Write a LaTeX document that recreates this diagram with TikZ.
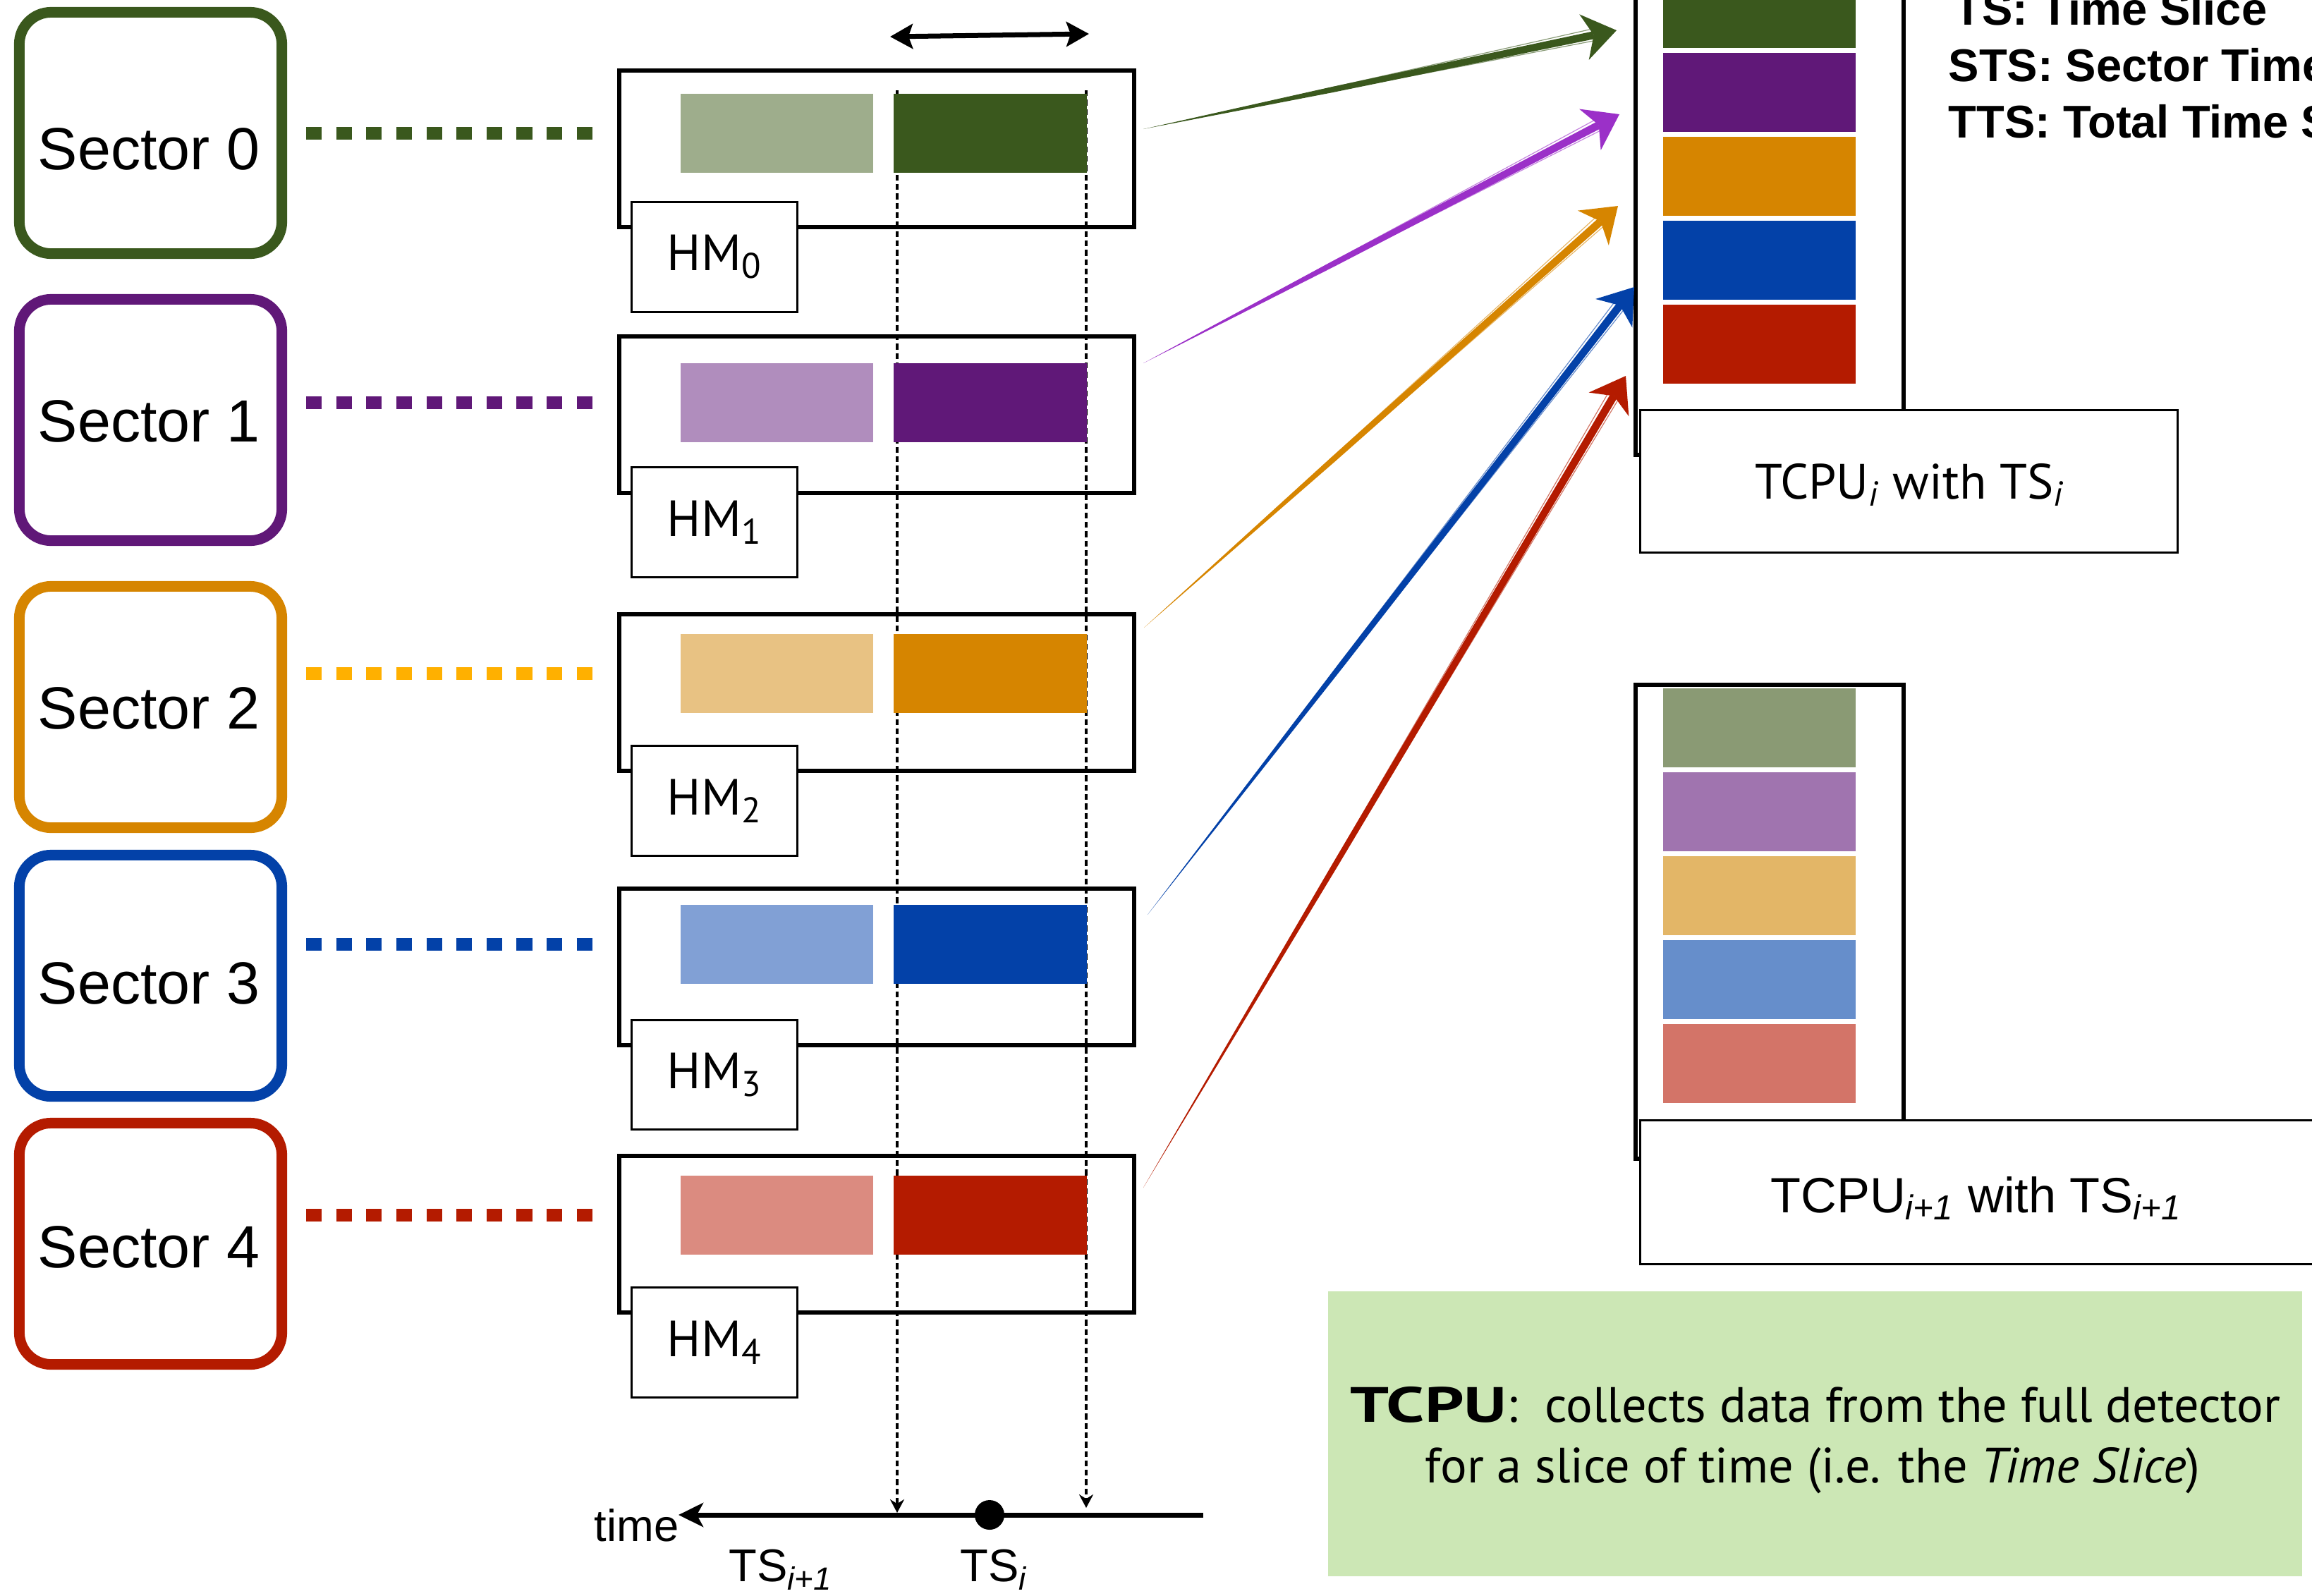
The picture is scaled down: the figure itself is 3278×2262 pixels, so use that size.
\documentclass[tikz,border=0pt]{standalone}
\usepackage{fontspec}
\setmainfont{Liberation Sans}
\newfontfamily\gill{PT Sans}
\usetikzlibrary{arrows.meta,calc}

% sector colours: dark (data in TS_i), light (older data), medium (TS_{i+1})
\definecolor{gD}{HTML}{3A581D}
\definecolor{gL}{HTML}{9EAD8C}
\definecolor{gM}{HTML}{8A9A74}
\definecolor{pD}{HTML}{601878}
\definecolor{pL}{HTML}{B08DBD}
\definecolor{pM}{HTML}{A074AF}
\definecolor{pA}{HTML}{9B30C8}
\definecolor{oD}{HTML}{D68500}
\definecolor{oL}{HTML}{E8C283}
\definecolor{oM}{HTML}{E3B667}
\definecolor{oDot}{HTML}{FFB000}
\definecolor{bD}{HTML}{0341A8}
\definecolor{bL}{HTML}{81A0D5}
\definecolor{bM}{HTML}{668ECB}
\definecolor{rD}{HTML}{B41B00}
\definecolor{rL}{HTML}{DB8B80}
\definecolor{rM}{HTML}{D37468}
\definecolor{noteGreen}{HTML}{CCE7B5}

% tapered, hand-drawn looking arrow: colour, start, tip
\newcommand\sketcharrow[3]{%
  \coordinate (sk-n) at ($(#3)!0.33cm!(#2)$);
  \coordinate (sk-h) at ($(#3)!0.47cm!(#2)$);
  \coordinate (sk-m) at ($(#2)!0.4!(#3)$);
  \fill[#1] (#2) -- ($(sk-m)!0.04cm!90:(#3)$) -- ($(sk-n)!0.055cm!90:(#3)$)
    -- ($(sk-n)!0.055cm!-90:(#3)$) -- ($(sk-m)!0.04cm!-90:(#3)$) -- cycle;
  \fill[#1] (#3) -- ($(sk-h)!0.33cm!90:(#3)$) -- (sk-n) -- ($(sk-h)!0.33cm!-90:(#3)$) -- cycle;
  \draw[#1, line width=0.012cm, opacity=0.6] ($(#2)!0.1!(#3)$) -- ($(sk-n)!0.09cm!90:(#3)$);
  \draw[#1, line width=0.012cm, opacity=0.6] ($(#2)!0.2!(#3)$) -- ($(sk-n)!0.08cm!-90:(#3)$);
}

\begin{document}
\begin{tikzpicture}[x=0.01cm, y=-0.01cm,
  sectorbox/.style={draw=#1, line width=0.15cm, rounded corners=0.45cm, fill=white,
    minimum width=3.72cm, minimum height=3.42cm, inner sep=0},
  sectortext/.style={font=\fontsize{24}{28}\selectfont, anchor=base, inner sep=0},
  link/.style={draw=#1, line width=0.185cm, dash pattern=on 0.22cm off 0.206cm},
  hmframe/.style={draw, line width=0.055cm, minimum width=7.3cm, minimum height=2.22cm, inner sep=0},
  hmtag/.style={draw, line width=0.03cm, fill=white, minimum width=2.35cm, minimum height=1.55cm,
    inner sep=0, font=\gill\fontsize{20.5}{24}\selectfont},
  slab/.style={fill=#1, minimum width=2.73cm, minimum height=1.12cm, inner sep=0},
  guide/.style={line width=0.04cm, dash pattern=on 0.083cm off 0.05cm,
    -{Stealth[length=0.19cm, width=0.2cm]}},
  tcpuframe/.style={draw, line width=0.065cm, minimum width=3.8cm, inner sep=0},
  tcputag/.style={draw, line width=0.03cm, fill=white, inner sep=0},
  plain/.style={inner sep=0, anchor=base west}
]
\useasboundingbox (0,0) rectangle (3278,2262);
\clip (0,0) rectangle (3278,2262);

% explanatory note
\node[fill=noteGreen, minimum width=13.81cm, minimum height=4.04cm, inner sep=0] (note) at (2573.5,2033) {};
\node[inner sep=0, anchor=base, font=\gill\fontsize{20}{24}\selectfont] (note1) at (2574,2016)
  {\scalebox{1.38}[1]{\textbf{TCPU}}:\hspace{0.55em}collects data from the full detector};
\node[inner sep=0, anchor=base, font=\gill\fontsize{20}{24}\selectfont] (note2) at (2570,2102)
  {for a slice of time (i.e. the \textit{Time Slice})};

% sectors
\node[sectorbox=gD] (s0) at (213.5,188.5) {};
\node[sectorbox=pD] (s1) at (213.5,595.5) {};
\node[sectorbox=oD] (s2) at (213.5,1002.5) {};
\node[sectorbox=bD] (s3) at (213.5,1383.5) {};
\node[sectorbox=rD] (s4) at (213.5,1763.5) {};
\node[sectortext] (s0t) at (211,240) {Sector 0};
\node[sectortext] (s1t) at (211,626) {Sector 1};
\node[sectortext] (s2t) at (211,1033) {Sector 2};
\node[sectortext] (s3t) at (211,1423) {Sector 3};
\node[sectortext] (s4t) at (211,1797) {Sector 4};

% histogram memories
\node[hmframe] (h0) at (1243,211) {};
\node[hmframe] (h1) at (1243,588) {};
\node[hmframe] (h2) at (1243,982) {};
\node[hmframe] (h3) at (1243,1371) {};
\node[hmframe] (h4) at (1243,1750) {};

% time slice boundaries projected onto the time axis
\coordinate (gl-top) at (1272,128);
\coordinate (gl-bot) at (1272,2145);
\coordinate (gr-top) at (1540,128);
\coordinate (gr-bot) at (1540,2138);
\draw[guide] (gl-top) -- (gl-bot);
\draw[guide] (gr-top) -- (gr-bot);

% data slabs inside each HM
\node[slab=gL] (l0) at (1101.5,189) {};
\node[slab=gD] (k0) at (1404,189) {};
\node[slab=pL] (l1) at (1101.5,571) {};
\node[slab=pD] (k1) at (1404,571) {};
\node[slab=oL] (l2) at (1101.5,955) {};
\node[slab=oD] (k2) at (1404,955) {};
\node[slab=bL] (l3) at (1101.5,1339) {};
\node[slab=bD] (k3) at (1404,1339) {};
\node[slab=rL] (l4) at (1101.5,1723) {};
\node[slab=rD] (k4) at (1404,1723) {};

\node[hmtag] (t0) at (1013,364.5) {HM\textsubscript{0}};
\node[hmtag] (t1) at (1013,740.5) {HM\textsubscript{1}};
\node[hmtag] (t2) at (1013,1135.5) {HM\textsubscript{2}};
\node[hmtag] (t3) at (1013,1524) {HM\textsubscript{3}};
\node[hmtag] (t4) at (1013,1903.5) {HM\textsubscript{4}};

% sector to HM links
\draw[link=gD] ($(s0.east |- l0.center)+(27,0)$) -- ($(h0.west |- l0.center)+(-35,0)$);
\draw[link=pD] ($(s1.east |- l1.center)+(27,0)$) -- ($(h1.west |- l1.center)+(-35,0)$);
\draw[link=oDot] ($(s2.east |- l2.center)+(27,0)$) -- ($(h2.west |- l2.center)+(-35,0)$);
\draw[link=bD] ($(s3.east |- l3.center)+(27,0)$) -- ($(h3.west |- l3.center)+(-35,0)$);
\draw[link=rD] ($(s4.east |- l4.center)+(27,0)$) -- ($(h4.west |- l4.center)+(-35,0)$);

% time slice width
\coordinate (span-l) at (1262,52);
\coordinate (span-r) at (1544,48);
\draw[line width=0.07cm, {Stealth[length=0.32cm, width=0.35cm, inset=0.06cm]}-{Stealth[length=0.32cm, width=0.35cm, inset=0.06cm]}]
  (span-l) -- (span-r);

% time axis
\coordinate (axis-r) at (1706,2148);
\coordinate (axis-l) at (962,2148);
\draw[line width=0.07cm, -{Stealth[length=0.35cm, width=0.34cm, inset=0.09cm]}] (axis-r) -- (axis-l);
\node[circle, fill, minimum size=0.42cm, inner sep=0] (tsdot) at (1403,2148) {};
\node[plain, font=\fontsize{18}{22}\selectfont] (timelbl) at (842,2185) {time};
\node[plain, font=\fontsize{18.5}{22}\selectfont] (tsnext) at (1033,2242) {TS\textsubscript{\textit{i+1}}};
\node[plain, font=\fontsize{18.5}{22}\selectfont] (tscur) at (1361,2242) {TS\textsubscript{\textit{i}}};

% TCPU receiving TS_i
\node[tcpuframe, minimum height=7.05cm] (ca) at (2509,292.5) {};
\node[slab=gD] (ca0) at (2494.5,12) {};
\node[slab=pD] (ca1) at (2494.5,131) {};
\node[slab=oD] (ca2) at (2494.5,250) {};
\node[slab=bD] (ca3) at (2494.5,369) {};
\node[slab=rD] (ca4) at (2494.5,488) {};
\node[tcputag, minimum width=7.62cm, minimum height=2.02cm] (cat) at (2706.5,682.5) {};
\node[inner sep=0, anchor=base, font=\gill\fontsize{20}{24}\selectfont] (catl) at (2708,707)
  {TCPU\textsubscript{\textit{i}} with TS\textsubscript{\textit{i}}};

% TCPU receiving TS_{i+1}
\node[tcpuframe, minimum height=6.72cm] (cb) at (2509,1307) {};
\node[slab=gM] (cb0) at (2494.5,1032) {};
\node[slab=pM] (cb1) at (2494.5,1151) {};
\node[slab=oM] (cb2) at (2494.5,1270) {};
\node[slab=bM] (cb3) at (2494.5,1389) {};
\node[slab=rM] (cb4) at (2494.5,1508) {};
\node[tcputag, minimum width=10.75cm, minimum height=2.04cm] (cbt) at (2863,1690.5) {};
\node[inner sep=0, anchor=base, font=\fontsize{20}{24}\selectfont] (cbtl) at (2802,1719)
  {TCPU\textsubscript{\textit{i+1}} with TS\textsubscript{\textit{i+1}}};

% data flow from the HMs to the TCPU
\coordinate (a0s) at (1621,183);  \coordinate (a0t) at (2292,43);
\coordinate (a1s) at (1621,515);  \coordinate (a1t) at (2296,162);
\coordinate (a2s) at (1622,890);  \coordinate (a2t) at (2294,292);
\coordinate (a3s) at (1627,1297); \coordinate (a3t) at (2317,407);
\coordinate (a4s) at (1621,1684); \coordinate (a4t) at (2305,533);
\sketcharrow{gD}{a0s}{a0t}
\sketcharrow{pA}{a1s}{a1t}
\sketcharrow{oD}{a2s}{a2t}
\sketcharrow{bD}{a3s}{a3t}
\sketcharrow{rD}{a4s}{a4t}

% glossary
\node[plain, font=\bfseries\fontsize{18.5}{22}\selectfont] (gl1) at (2770,35) {TS: Time Slice};
\node[plain, font=\bfseries\fontsize{18.5}{22}\selectfont] (gl2) at (2762,115) {STS: Sector Time Slice};
\node[plain, font=\bfseries\fontsize{18.5}{22}\selectfont] (gl3) at (2762,195) {TTS: Total Time Slice};
\end{tikzpicture}
\end{document}
